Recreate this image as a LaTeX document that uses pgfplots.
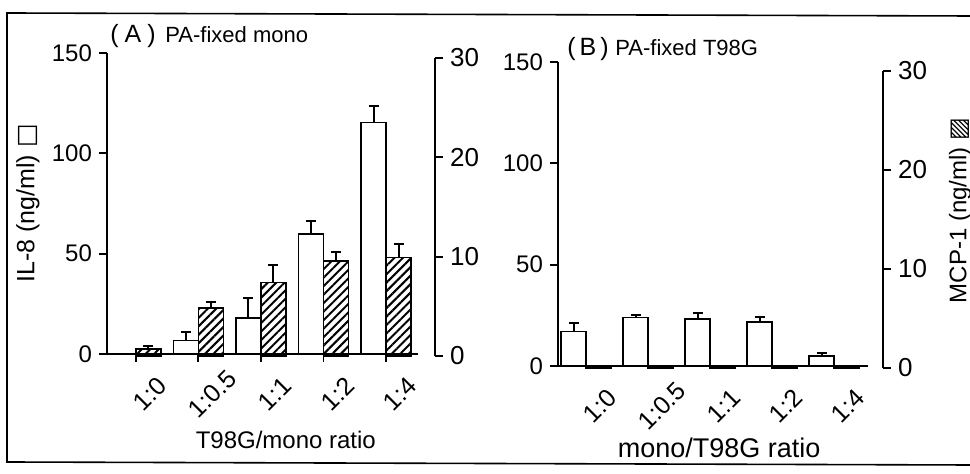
\documentclass[border=0pt]{standalone}
\usepackage{pgfplots}
\pgfplotsset{compat=1.18}
\usepackage{pgfplotstable}
\usepackage{fontspec}
\setmainfont{Liberation Sans}
\newfontfamily\dejavu{DejaVu Sans}
\usetikzlibrary{patterns.meta}

% Panel A: IL-8 (left axis), MCP-1 (right axis)
\pgfplotstableread{
x y e
0 0 0
1 6.7 4.5
2 18 9.8
3 59.7 6.7
4 115.3 8.3
}\ilA
\pgfplotstableread{
x y e
0 0.7 0.3
1 4.83 0.64
2 7.4 1.73
3 9.57 0.93
4 9.9 1.33
}\mcpA
% Panel B
\pgfplotstableread{
x y e
0 17 4.2
1 24 1.3
2 23.3 3
3 21.8 2.2
4 5 1.4
}\ilB
\pgfplotstableread{
x y e
0 0.15 0
1 0.1 0
2 0.1 0
3 0.1 0
4 0.1 0
}\mcpB

\pgfplotsset{
  common/.style={
    scale only axis, anchor=south west, ybar, bar width=0.4,
    axis line style={line width=0.9pt},
    tick style={line width=0.9pt, black},
    tick align=outside, major tick length=4pt,
    ticklabel style={font=\fontsize{12}{14}\selectfont},
    /pgf/number format/assume math mode=true,
    error bars/y dir=plus, error bars/y explicit,
    error bars/error bar style={line width=1pt, black},
    error bars/error mark options={rotate=90, mark size=2.5pt, line width=1pt, black},
    clip=false,
  },
  leftax/.style={
    common, ymin=0, ymax=150, axis x line*=bottom, axis y line*=left,
    ytick={0,50,100,150},
    xtick={0,...,4}, xticklabels={1:0,1:0.5,1:1,1:2,1:4},
    xticklabel style={font=\fontsize{12.5}{15}\selectfont, xshift=7pt, yshift=-16pt, rotate=45, anchor=center},
  },
  rightax/.style={
    common, ymin=0, ymax=30, axis y line*=right, axis x line=none,
    ytick={0,10,20,30}, xtick=\empty,
    yticklabel style={font=\fontsize{13}{15}\selectfont},
  },
  whitebar/.style={fill=white, draw=black, line width=0.8pt, bar shift=-0.2},
  hatchbar/.style={draw=black, line width=0.8pt, bar shift=0.2,
    pattern={Lines[angle=45, distance=3pt, line width=1pt]}, pattern color=black},
}

\begin{document}
\begin{tikzpicture}
\useasboundingbox (0,0) rectangle (485pt,-237pt);
\draw[line width=0.8pt] (485pt,-8pt) -- (3.5pt,-6.5pt) -- (3.5pt,-231pt) -- (485pt,-232.5pt);

% titles
\node[anchor=base west, inner sep=0pt, font=\fontsize{12.5}{14}\selectfont] at (55pt,-21.5pt) {(\hspace{3pt}A\hspace{3pt})};
\node[anchor=base west, inner sep=0pt, font=\fontsize{11}{13}\selectfont] at (82.5pt,-21.5pt) {PA-fixed mono};
\node[anchor=base west, inner sep=0pt, font=\fontsize{12.5}{14}\selectfont] at (283.5pt,-28pt) {(\hspace{2pt}B\hspace{2pt})};
\node[anchor=base west, inner sep=0pt, font=\fontsize{11}{13}\selectfont] at (307.5pt,-28pt) {PA-fixed T98G};

% ---------- Panel A ----------
\begin{axis}[leftax, at={(53.5pt,-177pt)}, width=155.5pt, height=150.5pt,
  xmin=-0.46, xmax=4.51,
  xlabel={T98G/mono ratio},
  xlabel style={at={(axis description cs:0.575,-0.285)}, anchor=center, font=\fontsize{12}{14}\selectfont},
  ylabel={IL-8 (ng/ml) {\dejavu □}},
  ylabel style={at={(axis description cs:-0.254,0.5)}, anchor=center, font=\fontsize{12.5}{14}\selectfont},
]
\addplot[whitebar, error bars/.cd, y dir=plus, y explicit] table[x=x, y=y, y error=e] {\ilA};
\end{axis}
\begin{axis}[rightax, at={(53.5pt,-178pt)}, width=164pt, height=149pt,
  xmin=-0.46, xmax=4.782,
]
\addplot[hatchbar, error bars/.cd, y dir=plus, y explicit] table[x=x, y=y, y error=e] {\mcpA};
\end{axis}

% ---------- Panel B ----------
\begin{axis}[leftax, at={(279pt,-183pt)}, width=155pt, height=152pt,
  xmin=-0.45, xmax=4.55, xtick style={draw=none},
  xlabel={mono/T98G ratio},
  xlabel style={at={(axis description cs:0.52,-0.27)}, anchor=center, font=\fontsize{13.5}{15}\selectfont},
]
\addplot[whitebar, error bars/.cd, y dir=plus, y explicit] table[x=x, y=y, y error=e] {\ilB};
\end{axis}
\begin{axis}[rightax, at={(279pt,-184pt)}, width=162.5pt, height=148.5pt,
  xmin=-0.45, xmax=4.792,
  ylabel={MCP-1 (ng/ml) {\dejavu ▨}},
  ylabel style={at={(axis description cs:1.237,0.53)}, anchor=center, font=\fontsize{12}{14}\selectfont},
]
\addplot[hatchbar] table[x=x, y=y] {\mcpB};
\end{axis}
\end{tikzpicture}
\end{document}
